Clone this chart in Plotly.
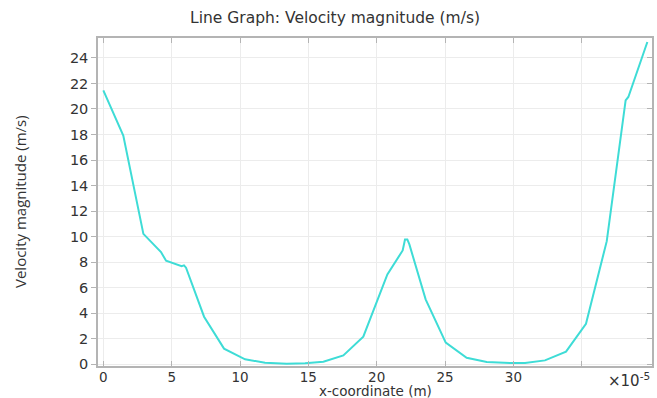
import plotly.graph_objects as go

# x-coordinate in units of 1e-5 m, velocity magnitude in m/s
x_coord = [0.0, 0.9, 1.46, 2.93, 4.22, 4.59, 5.73, 5.9, 6.05, 7.37, 8.83, 10.37,
           11.83, 13.42, 14.76, 16.1, 17.56, 19.02, 20.78, 21.9, 22.07, 22.24,
           22.39, 23.58, 25.05, 26.58, 28.05, 29.75, 30.85, 32.31, 33.85, 35.31,
           36.83, 38.21, 38.41, 39.8]
velocity = [21.46, 19.3, 17.92, 10.22, 8.79, 8.11, 7.69, 7.75, 7.57, 3.73, 1.23, 0.39,
            0.13, 0.05, 0.08, 0.21, 0.70, 2.17, 7.04, 8.92, 9.78, 9.78,
            9.39, 5.09, 1.70, 0.52, 0.18, 0.10, 0.10, 0.31, 0.99, 3.18,
            9.65, 20.68, 20.94, 25.25]

x_ticks = [0, 5, 10, 15, 20, 25, 30, 35]
x_tick_labels = ["0", "5", "10", "15", "20", "25", "30", ""]
y_ticks = list(range(0, 25, 2))

x_range = [-0.39, 40.14]
y_range = [-0.13, 25.56]

axis_col = "#b4b4b4"
grid_col = "#ececec"
text_col = "#333333"
y_tick_font = dict(family="DejaVu Sans", size=14.5, color=text_col)
x_tick_font = dict(family="DejaVu Sans", size=13.5, color=text_col)

fig = go.Figure()
fig.add_trace(go.Scatter(x=x_coord, y=velocity, mode="lines",
                         line=dict(color="#3edcd6", width=2), showlegend=False))
# invisible trace on the secondary y axis so its ticks are drawn
fig.add_trace(go.Scatter(x=x_coord[:1], y=velocity[:1], yaxis="y2", mode="lines",
                         line=dict(width=0), showlegend=False, hoverinfo="skip"))

fig.update_layout(
    width=657, height=398,
    margin=dict(l=98, r=5, t=38, b=32, autoexpand=False),
    paper_bgcolor="white", plot_bgcolor="white",
    title=dict(text="Line Graph: Velocity magnitude (m/s)", x=0.51, xanchor="center",
               y=0.955, yanchor="middle",
               font=dict(family="DejaVu Sans", size=15.5, color=text_col)),
    xaxis=dict(range=x_range, tickvals=x_ticks, ticktext=x_tick_labels,
               automargin=False, ticklabelstandoff=-2,
               showgrid=True, gridcolor=grid_col, gridwidth=1, zeroline=False,
               showline=True, linecolor=axis_col, linewidth=1.5, mirror="ticks",
               ticks="inside", ticklen=5, tickcolor=axis_col, tickfont=x_tick_font),
    yaxis=dict(range=y_range, tickvals=y_ticks, automargin=False,
               showgrid=True, gridcolor=grid_col,
               gridwidth=1, zeroline=False, showline=True, linecolor=axis_col,
               linewidth=1.5, mirror=True, ticks="outside", ticklen=5,
               tickcolor=axis_col, tickfont=y_tick_font),
    yaxis2=dict(range=y_range, tickvals=y_ticks, overlaying="y", side="right",
                automargin=False,
                showgrid=False, zeroline=False, showticklabels=False,
                ticks="inside", ticklen=5, tickcolor=axis_col, showline=False),
    annotations=[
        dict(text="x-coordinate (m)", xref="paper", yref="paper", x=0.5, y=0,
             xanchor="center", yanchor="middle", yshift=-25, showarrow=False,
             font=dict(family="DejaVu Sans", size=13.5, color=text_col)),
        dict(text="Velocity magnitude (m/s)", xref="paper", yref="paper",
             x=0, y=0.5, xanchor="center", yanchor="middle", xshift=-78,
             textangle=-90, showarrow=False,
             font=dict(family="Open Sans", size=15, color=text_col)),
        dict(text="×10<sup>-5</sup>", xref="paper", yref="paper",
             x=1.0, y=0, xanchor="right", yanchor="top", yshift=-2,
             showarrow=False,
             font=dict(family="DejaVu Sans", size=15, color=text_col)),
    ],
)

fig.write_html("out.html")
